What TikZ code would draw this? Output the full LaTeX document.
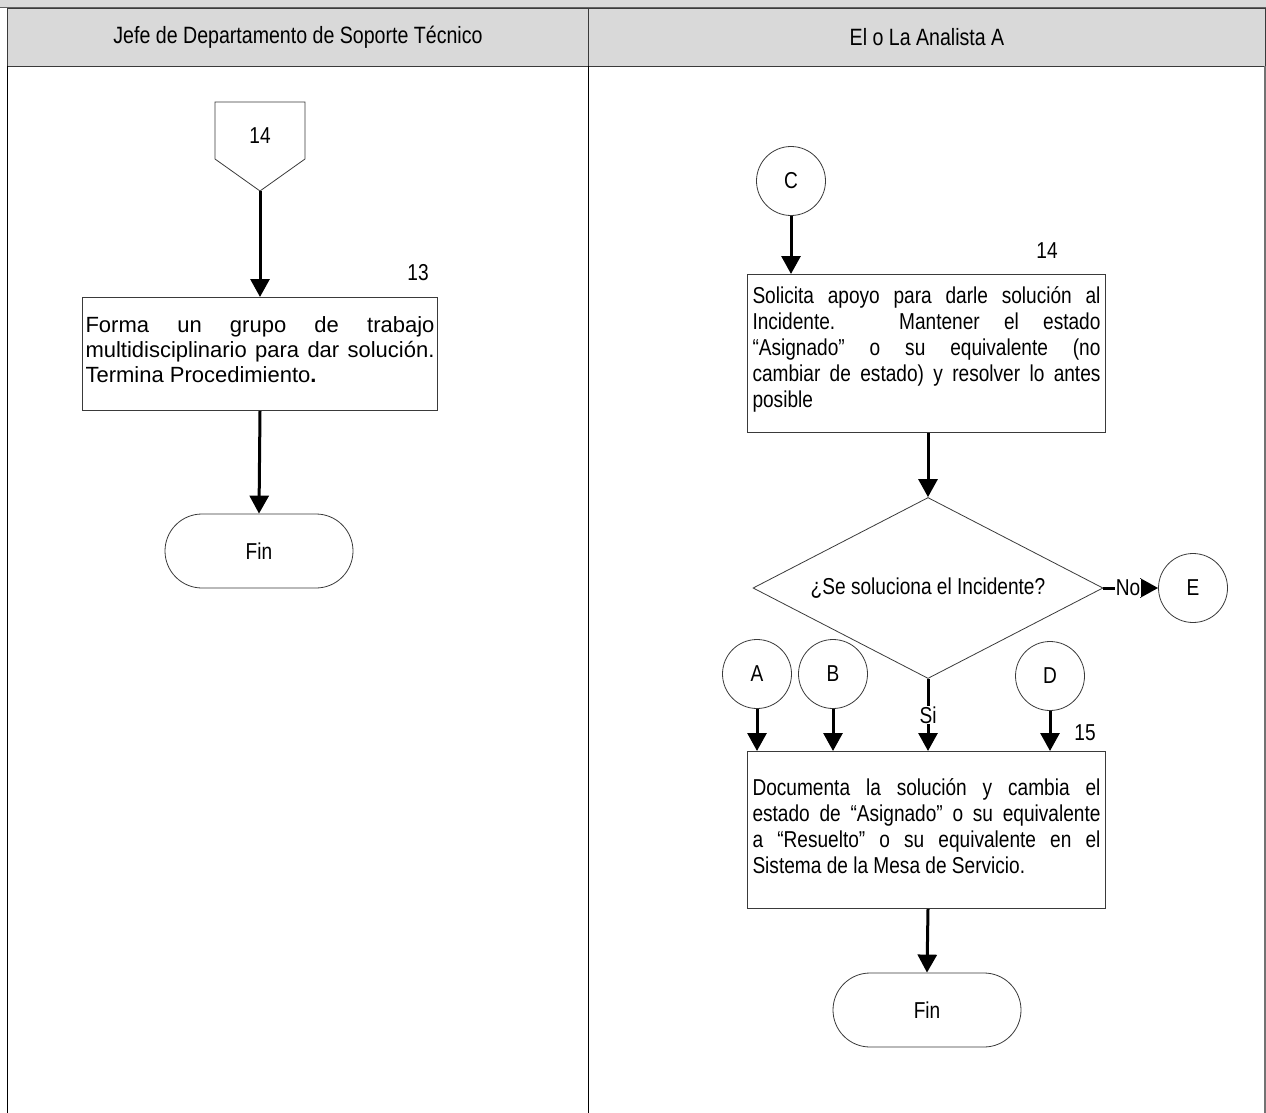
\documentclass[tikz,border=0pt]{standalone}
\usepackage{fontspec}
\setmainfont[FakeStretch=0.83]{Liberation Sans}
\newfontfamily\regfont{Liberation Sans}
\usetikzlibrary{shapes.geometric,shapes.misc,arrows.meta}
\definecolor{hdrgray}{HTML}{D9D9D9}
\definecolor{edgegray}{HTML}{3A3A3A}
\newcommand{\boxtext}[4]{\parbox[t][#1][t]{#2}{\rule{0pt}{#3}#4}}
\begin{document}
\begin{tikzpicture}[x=1pt,y=-1pt,
  every node/.style={font=\fontsize{23}{26}\selectfont, inner sep=0pt},
  hdr/.style={draw=edgegray, fill=hdrgray, line width=1pt, anchor=north west, minimum height=58pt, font=\fontsize{23.6}{26}\selectfont},
  proc/.style={rectangle, draw=edgegray, line width=1pt, inner xsep=5pt, inner ysep=0pt, anchor=north west},
  conn/.style={circle, draw=edgegray, line width=0.8pt, minimum size=69pt},
  term/.style={rounded rectangle, draw=edgegray, line width=0.8pt, minimum width=188pt, minimum height=74pt},
  shapeline/.style={draw=edgegray, line width=0.8pt},
  flow/.style={line width=3pt, -{Triangle[length=18pt,width=19pt]}},
  lbl/.style={fill=white, inner sep=1pt}]
\useasboundingbox (0,0) rectangle (1266,1113);
% top band and header
\fill[hdrgray] (0,0) rectangle (1266,8);
\draw[edgegray!80, line width=1pt] (0,8) -- (1266,8);
\node[hdr, minimum width=581pt] (h1) at (7,8) {Jefe de Departamento de Soporte Técnico};
\node[hdr, minimum width=677pt] (h2) at (588,8) {El o La Analista A};
% lane lines
\draw[black, line width=1pt] (7,66) -- (7,1113);
\draw[black, line width=1pt] (588,66) -- (588,1113);
\draw[black!55, line width=1.5pt] (1265,66) -- (1265,1113);

% ---- left lane ----
\draw[shapeline] (215,102) -- (305,102) -- (305,159) -- (260,191) -- (215,159) -- cycle;
\node (p14) at (260,136) {14};
\coordinate (p14tip) at (260,191);
\node[proc, inner xsep=3pt, font=\regfont\fontsize{22}{25}\selectfont] (b13) at (82,297) {\boxtext{113pt}{349pt}{35pt}{Forma un grupo de trabajo\linebreak multidisciplinario para dar solución.\linebreak Termina Procedimiento\textbf{.}}};
\node (n13) at (418,273) {13};
\node[term] (fin1) at (259,551) {Fin};
\draw[flow] (p14tip) -- (b13.north);
\draw[flow] (b13.south) -- (fin1.north);

% ---- right lane ----
\node[conn] (cC) at (791,181) {C};
\node[proc] (b14) at (747,274) {\boxtext{158pt}{348pt}{29pt}{Solicita apoyo para darle solución al\linebreak Incidente. Mantener el estado\linebreak “Asignado” o su equivalente (no\linebreak cambiar de estado) y resolver lo antes\linebreak posible}};
\node (n14) at (1047,251) {14};
\node[diamond, shapeline, minimum width=350pt, minimum height=181pt, aspect=1.93] (dec) at (928,588) {¿Se soluciona el Incidente?};
\node[conn] (cE) at (1193,588) {E};
\node[conn] (cA) at (757,674) {A};
\node[conn] (cB) at (833,674) {B};
\node[conn] (cD) at (1050,676) {D};
\node[proc] (b15) at (747,751) {\boxtext{157pt}{348pt}{44pt}{Documenta la solución y cambia el\linebreak estado de “Asignado” o su equivalente\linebreak a “Resuelto” o su equivalente en el\linebreak Sistema de la Mesa de Servicio.}};
\node (n15) at (1085,733) {15};
\node[term] (fin2) at (927,1010) {Fin};

\draw[flow] (cC.south) -- (cC.south |- b14.north);
\draw[flow] (dec.north |- b14.south) -- (dec.north);
\draw[flow] (dec.east) -- node[lbl, pos=0.45] {No} (cE.west);
\draw[flow] (cA.south) -- (cA.south |- b15.north);
\draw[flow] (cB.south) -- (cB.south |- b15.north);
\draw[flow] (cD.south) -- (cD.south |- b15.north);
\draw[flow] (dec.south) -- node[lbl, pos=0.5] {Si} (dec.south |- b15.north);
\draw[flow] (dec.south |- b15.south) -- (fin2.north);
\end{tikzpicture}
\end{document}
